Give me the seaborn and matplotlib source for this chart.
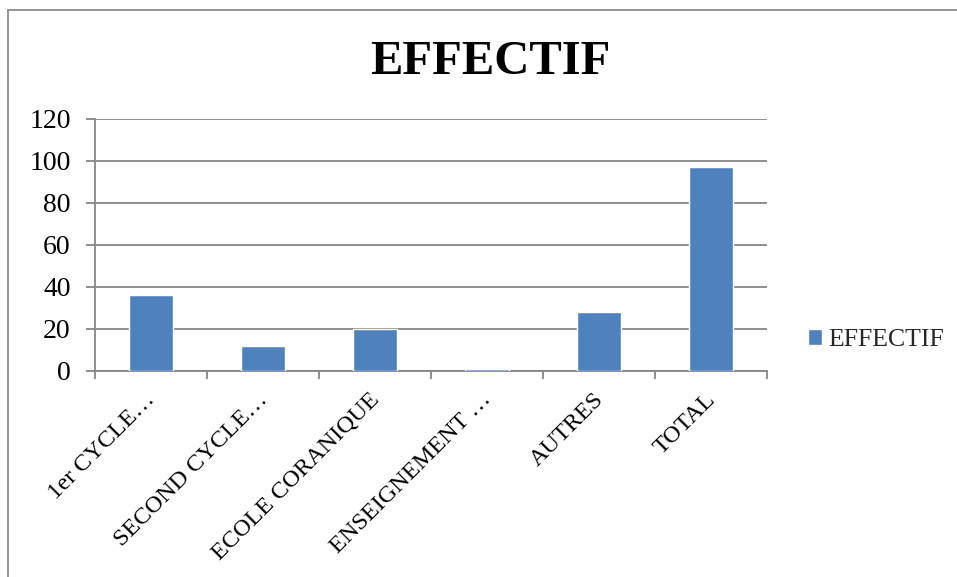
import matplotlib
matplotlib.use("Agg")
import matplotlib.pyplot as plt
from matplotlib.patches import Rectangle
from matplotlib.ticker import FixedLocator
import seaborn as sns
import pandas as pd

categories = ["1er CYCLE…", "SECOND CYCLE…", "ECOLE CORANIQUE",
              "ENSEIGNEMENT …", "AUTRES", "TOTAL"]
effectif = [36, 12, 20, 1, 28, 97]
y_ticks = [0, 20, 40, 60, 80, 100, 120]
series_name = "EFFECTIF"

df = pd.DataFrame({"categorie": categories, "effectif": effectif})

sns.set_theme(style="white")
plt.rcParams["font.family"] = ["Liberation Serif", "DejaVu Serif"]

W, H = 957, 577
fig = plt.figure(figsize=(W / 100, H / 100), dpi=100)
fig.patch.set_facecolor("white")

# chart-area frame
fig.patches.append(Rectangle((8 / W, -0.1), 1.2, 1 - 10 / H + 0.1,
                             transform=fig.transFigure, fill=False,
                             edgecolor="#8c8c8c", linewidth=1.3))

ax = fig.add_axes([95 / W, 1 - 371 / H, (767 - 95) / W, (371 - 119) / H])
blue = "#4F81BD"
sns.barplot(data=df, x="categorie", y="effectif", color=blue, width=0.4,
            saturation=1, ax=ax, label=series_name, zorder=3)

n = len(categories)
ax.set_xlim(-0.5, n - 0.5)
ax.set_ylim(0, 120)
ax.set_yticks(y_ticks)
ax.set_xlabel("")
ax.set_ylabel("")

grey = "#868686"
ax.grid(axis="y", color=grey, linewidth=1.3, zorder=0)
ax.set_axisbelow(True)
for s in ["top", "right"]:
    ax.spines[s].set_visible(False)
for s in ["left", "bottom"]:
    ax.spines[s].set_color(grey)
    ax.spines[s].set_linewidth(1.3)
    ax.spines[s].set_zorder(2)

ax.tick_params(axis="y", which="major", left=True, length=6.5, width=1.3,
               color=grey, pad=11, labelsize=20, labelcolor="black")

# category labels sit just right of each bar centre, boundaries get tick marks
ax.set_xticks([i + 0.045 for i in range(n)], labels=categories)
ax.xaxis.set_minor_locator(FixedLocator([i - 0.5 for i in range(n + 1)]))
ax.tick_params(axis="x", which="major", bottom=False, length=0, pad=21,
               labelsize=17.5, labelcolor="black")
ax.tick_params(axis="x", which="minor", bottom=True, length=6, width=1.3,
               color=grey)
for lab in ax.get_xticklabels():
    lab.set_rotation(45)
    lab.set_ha("right")
    lab.set_va("baseline")
    lab.set_rotation_mode("anchor")

fig.text(490 / W, 1 - 62 / H, series_name, ha="center", va="center",
         fontsize=35, fontweight="bold", color="black")

leg = ax.legend(loc="center left", bbox_to_anchor=(808 / W, 1 - 340 / H),
                bbox_transform=fig.transFigure, frameon=False, fontsize=18.5,
                handlelength=0.55, handleheight=0.55, handletextpad=0.25,
                borderpad=0, borderaxespad=0)

fig.savefig("out.png", dpi=100, facecolor="white")
